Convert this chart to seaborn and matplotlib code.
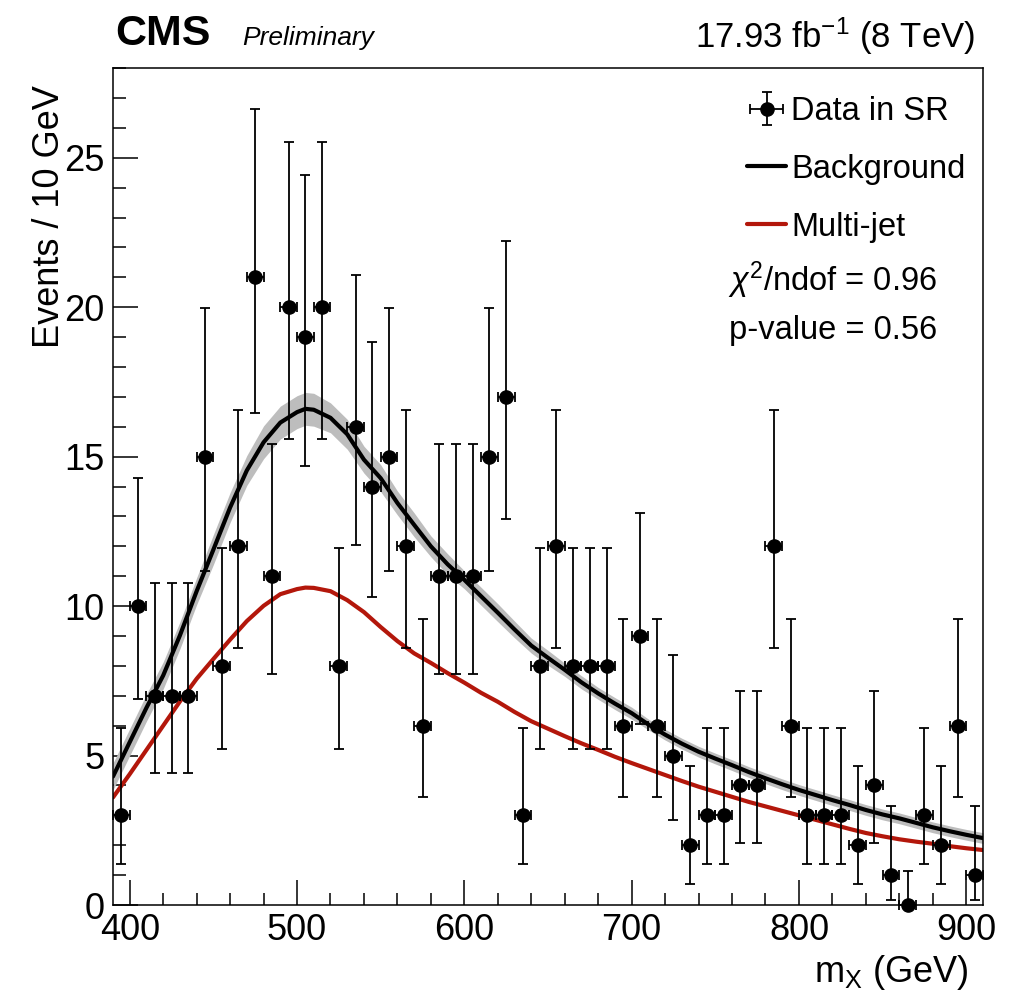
import numpy as np
import pandas as pd
import seaborn as sns
import matplotlib.pyplot as plt
from matplotlib.lines import Line2D

# data: events per 10 GeV bin (bin centres)
mass = [395, 405, 415, 425, 435, 445, 455, 465, 475, 485, 495, 505, 515, 525, 535,
        545, 555, 565, 575, 585, 595, 605, 615, 625, 635, 645, 655, 665, 675, 685,
        695, 705, 715, 725, 735, 745, 755, 765, 775, 785, 795, 805, 815, 825, 835,
        845, 855, 865, 875, 885, 895, 905]
events = [3, 10, 7, 7, 7, 15, 8, 12, 21, 11, 20, 19, 20, 8, 16,
          14, 15, 12, 6, 11, 11, 11, 15, 17, 3, 8, 12, 8, 8, 8,
          6, 9, 6, 5, 2, 3, 3, 4, 4, 12, 6, 3, 3, 3, 2,
          4, 1, 0, 3, 2, 6, 1]

# poisson 68% interval (lower, upper) per observed count
poisson_int = {0: (0.0, 1.15), 1: (0.173, 3.30), 2: (0.708, 4.64), 3: (1.37, 5.92),
               4: (2.09, 7.16), 5: (2.84, 8.38), 6: (3.62, 9.58), 7: (4.42, 10.77),
               8: (5.23, 11.95), 9: (6.06, 13.11), 10: (6.89, 14.27), 11: (7.73, 15.42),
               12: (8.59, 16.56), 14: (10.30, 18.83), 15: (11.17, 19.96), 16: (12.04, 21.08),
               17: (12.92, 22.20), 19: (14.69, 24.42), 20: (15.58, 25.53), 21: (16.47, 26.63)}

# fit curves
curve_x = [390, 400, 410, 420, 430, 440, 450, 460, 470, 480, 490, 500, 505, 510, 520,
           530, 540, 550, 560, 570, 580, 590, 600, 610, 620, 630, 640, 650, 660, 670,
           680, 690, 700, 710, 720, 730, 740, 750, 760, 770, 780, 790, 800, 810, 820,
           830, 840, 850, 860, 870, 880, 890, 900, 910]
background = [4.3, 5.45, 6.6, 7.68, 9.02, 10.5, 11.89, 13.3, 14.54, 15.48, 16.14, 16.49, 16.6, 16.57, 16.3,
              15.75, 14.9, 14.28, 13.45, 12.72, 12.0, 11.4, 10.88, 10.33, 9.78, 9.22, 8.68, 8.27, 7.87, 7.45,
              7.08, 6.74, 6.42, 6.04, 5.7, 5.4, 5.13, 4.9, 4.68, 4.45, 4.24, 4.04, 3.85, 3.68, 3.51,
              3.35, 3.18, 3.03, 2.9, 2.75, 2.6, 2.47, 2.35, 2.24]
bkg_unc = [0.45, 0.45, 0.45, 0.45, 0.45, 0.45, 0.5, 0.5, 0.5, 0.55, 0.55, 0.55, 0.55, 0.55, 0.5,
           0.5, 0.45, 0.45, 0.4, 0.4, 0.35, 0.35, 0.3, 0.3, 0.3, 0.28, 0.25, 0.25, 0.22, 0.22,
           0.2, 0.2, 0.2, 0.18, 0.18, 0.18, 0.18, 0.18, 0.18, 0.18, 0.18, 0.18, 0.18, 0.18, 0.18,
           0.18, 0.18, 0.18, 0.18, 0.18, 0.18, 0.18, 0.18, 0.18]
multijet = [3.6, 4.38, 5.19, 6.0, 6.81, 7.57, 8.23, 8.88, 9.5, 10.01, 10.4, 10.57, 10.62, 10.61, 10.5,
            10.2, 9.8, 9.3, 8.83, 8.42, 8.1, 7.76, 7.44, 7.1, 6.8, 6.46, 6.15, 5.9, 5.65, 5.41,
            5.19, 4.96, 4.75, 4.55, 4.35, 4.15, 3.96, 3.79, 3.62, 3.45, 3.3, 3.15, 3.0, 2.85, 2.7,
            2.55, 2.41, 2.3, 2.2, 2.12, 2.05, 1.97, 1.9, 1.84]

df = pd.DataFrame({'mass': mass, 'events': events})
df['lo'] = [n - poisson_int[n][0] for n in events]
df['hi'] = [poisson_int[n][1] - n for n in events]
fit = pd.DataFrame({'mass': curve_x, 'bkg': background, 'unc': bkg_unc, 'qcd': multijet})

sns.set_style('ticks')
plt.rcParams['font.family'] = ['Liberation Sans', 'DejaVu Sans']
plt.rcParams['mathtext.fontset'] = 'custom'
plt.rcParams['mathtext.rm'] = 'Liberation Sans'
plt.rcParams['mathtext.it'] = 'Liberation Sans:italic'
plt.rcParams['text.color'] = 'black'
plt.rcParams['axes.labelcolor'] = 'black'
plt.rcParams['xtick.color'] = 'black'
plt.rcParams['ytick.color'] = 'black'
plt.rcParams['axes.edgecolor'] = 'black'

red = '#b3170b'
fig = plt.figure(figsize=(10.18, 9.94), dpi=100)
ax = fig.add_axes([0.111, 0.0895, 0.8546, 0.842])

ax.fill_between(fit['mass'], fit['bkg'] - fit['unc'], fit['bkg'] + fit['unc'],
                color='#bdbdbd', lw=0, zorder=1)
sns.lineplot(data=fit, x='mass', y='qcd', color=red, lw=3, ax=ax, zorder=2)
sns.lineplot(data=fit, x='mass', y='bkg', color='black', lw=3, ax=ax, zorder=3)

eb = ax.errorbar(df['mass'], df['events'], yerr=[df['lo'], df['hi']], xerr=5,
                 fmt='o', color='black', ms=9.5, elinewidth=1.3, capsize=3.5,
                 capthick=1.3, zorder=4, clip_on=False)

ax.set_xlim(390, 910)
ax.set_ylim(0, 28)
ax.set_xticks([400, 500, 600, 700, 800, 900])
ax.set_xticks(np.arange(400, 911, 20), minor=True)
ax.set_yticks([0, 5, 10, 15, 20, 25])
ax.set_yticks(np.arange(0, 28.1, 1), minor=True)
ax.tick_params(which='both', direction='in', top=False, right=False, labelsize=26, width=1.1)
ax.tick_params(which='major', length=18, pad=6)
ax.tick_params(which='minor', length=9)
for s in ax.spines.values():
    s.set_linewidth(1.1)

ax.set_xlabel(r'm$_{\mathrm{X}}$ (GeV)', fontsize=26, loc='right')
ax.xaxis.set_label_coords(0.983, -0.057)
ax.set_ylabel('Events / 10 GeV', fontsize=26, loc='top')
ax.yaxis.set_label_coords(-0.053, 0.98)

handles = [eb, Line2D([], [], color='black', lw=3), Line2D([], [], color=red, lw=3)]
ax.legend(handles, ['Data in SR', 'Background', 'Multi-jet'], loc='upper left',
          bbox_to_anchor=(0.71, 0.986), frameon=False, fontsize=23.5,
          handlelength=1.2, handletextpad=0.15, labelspacing=0.82, borderpad=0)
ax.text(0.707, 0.747, r'$\chi^{2}$/ndof = 0.96', transform=ax.transAxes,
        fontsize=23.5, va='center', ha='left')
ax.text(0.708, 0.687, 'p-value = 0.56', transform=ax.transAxes,
        fontsize=23.5, va='center', ha='left')

fig.text(0.113, 0.966, 'CMS', fontsize=31, fontweight='bold', va='center', ha='left')
fig.text(0.238, 0.962, 'Preliminary', fontsize=19, style='italic', va='center', ha='left')
fig.text(0.958, 0.964, r'17.93 fb$^{-1}$ (8 TeV)', fontsize=25, va='center', ha='right')

fig.savefig('out.png', dpi=100)
